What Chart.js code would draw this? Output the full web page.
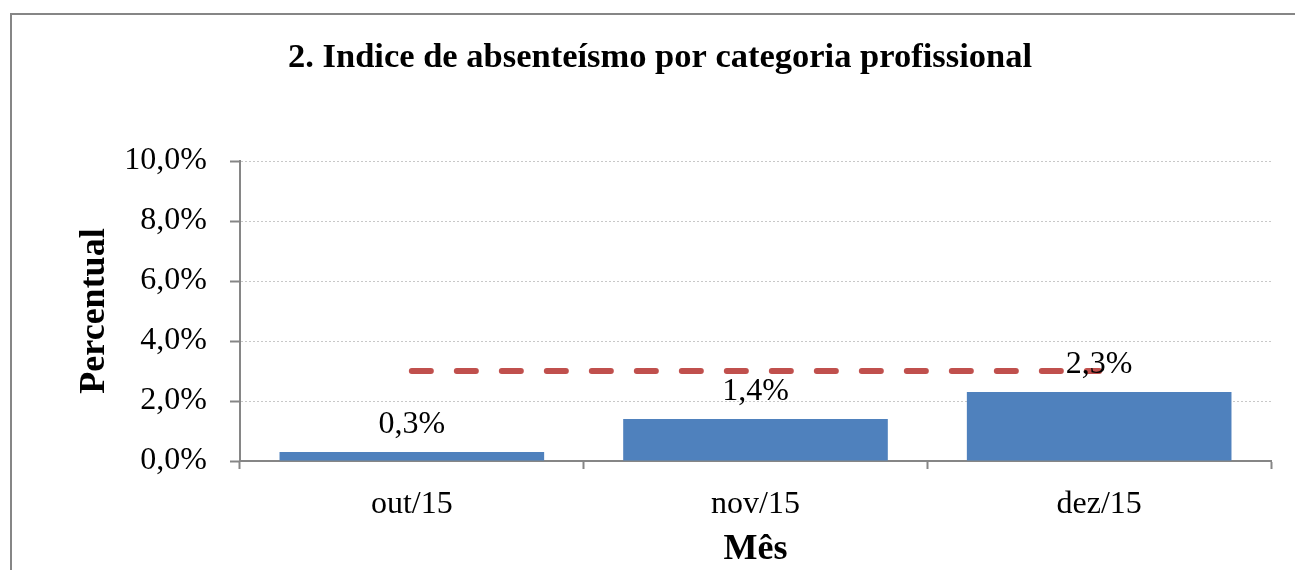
<!DOCTYPE html>
<html>
<head>
<meta charset="utf-8">
<script src="https://cdn.jsdelivr.net/npm/chart.js@4"></script>
<style>
  html, body { margin: 0; padding: 0; background: #fff; }
  canvas { display: block; }
</style>
</head>
<body>
<canvas id="myChart" width="1295" height="570"></canvas>
<script>
// données
const meses = ['out/15', 'nov/15', 'dez/15'];
const indice = [0.3, 1.4, 2.3];
const meta = [3.0, 3.0, 3.0];
const yTicks = [0, 2, 4, 6, 8, 10];

const serif = '"Liberation Serif", "Times New Roman", serif';
const fmt = v => v.toFixed(1).replace('.', ',') + '%';

// cadre extérieur + titre + étiquettes des barres
const decor = {
  id: 'decor',
  beforeDraw(chart) {
    const ctx = chart.ctx;
    ctx.save();
    ctx.strokeStyle = '#868686';
    ctx.lineWidth = 2;
    ctx.strokeRect(11, 14, 1400, 700);
    ctx.restore();
  },
  afterDatasetsDraw(chart) {
    const ctx = chart.ctx;
    ctx.save();
    ctx.fillStyle = '#000';
    ctx.textAlign = 'center';
    ctx.textBaseline = 'alphabetic';
    ctx.font = 'bold 34.5px ' + serif;
    ctx.fillText('2. Indice de absenteísmo por categoria profissional', 660, 67);
    ctx.font = '32px ' + serif;
    chart.getDatasetMeta(0).data.forEach((bar, i) => {
      ctx.fillText(fmt(indice[i]), bar.x, bar.y - 19);
    });
    ctx.restore();
  }
};

const ctx = document.getElementById('myChart').getContext('2d');
new Chart(ctx, {
  type: 'bar',
  data: {
    labels: meses,
    datasets: [{
      label: 'Índice',
      data: indice,
      backgroundColor: '#4F81BD',
      barPercentage: 0.77,
      categoryPercentage: 1,
      order: 2
    }, {
      type: 'line',
      label: 'Meta',
      data: meta,
      borderColor: '#C0504D',
      borderWidth: 6,
      borderDash: [19, 26],
      borderCapStyle: 'round',
      pointRadius: 0,
      fill: false,
      order: 1
    }]
  },
  options: {
    responsive: false,
    animation: false,
    layout: { padding: { left: 12, top: 161, right: 24, bottom: 0 } },
    plugins: {
      legend: { display: false },
      tooltip: { enabled: false },
      title: { display: false }
    },
    scales: {
      x: {
        afterFit(scale) { scale.height = 109; },
        grid: {
          drawOnChartArea: false,
          tickLength: 8,
          tickColor: '#868686',
          tickWidth: 2
        },
        border: { color: '#868686', width: 2 },
        ticks: { color: '#000', font: { family: serif, size: 32 }, padding: 16 },
        title: {
          display: true,
          text: 'Mês',
          color: '#000',
          font: { family: serif, size: 36, weight: 'bold', lineHeight: 1.1 },
          padding: { top: 0, bottom: 0 }
        }
      },
      y: {
        min: 0,
        max: 10,
        afterFit(scale) { scale.width = 228; },
        afterBuildTicks(scale) { scale.ticks = yTicks.map(v => ({ value: v })); },
        grid: {
          color: '#c8c8c8',
          tickColor: '#868686',
          tickBorderDash: [],
          tickWidth: 2,
          tickLength: 10
        },
        border: { color: '#868686', width: 2, dash: [2, 2] },
        ticks: {
          color: '#000',
          font: { family: serif, size: 32 },
          padding: 23,
          callback: v => fmt(v)
        },
        title: {
          display: true,
          text: 'Percentual',
          color: '#000',
          font: { family: serif, size: 36, weight: 'bold', lineHeight: 1.1 },
          padding: { top: 63, bottom: 0 }
        }
      }
    }
  },
  plugins: [decor]
});
</script>
</body>
</html>
